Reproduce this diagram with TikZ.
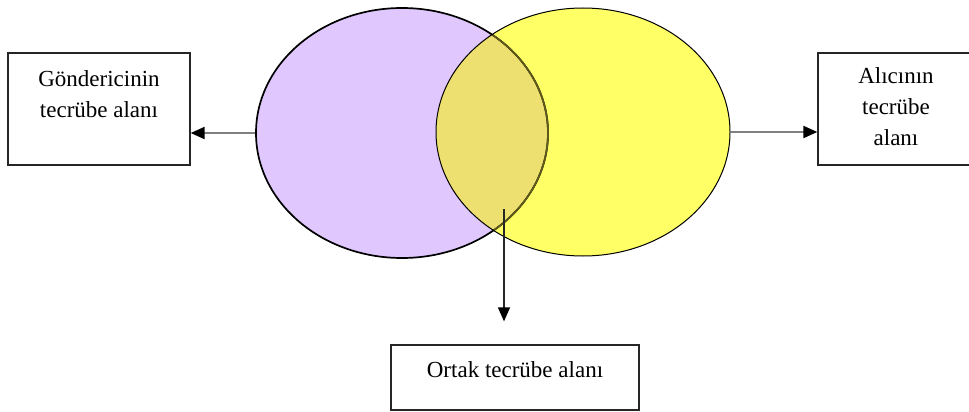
\documentclass[tikz,border=0pt]{standalone}
\usepackage{fontspec}
\setmainfont{Liberation Serif}
\usetikzlibrary{arrows.meta,positioning,shapes.geometric}
\definecolor{lila}{RGB}{224,200,255}
\definecolor{sari}{RGB}{255,255,102}
\definecolor{ortak}{RGB}{238,224,112}
\definecolor{zeytin}{RGB}{95,90,25}

\begin{document}
\begin{tikzpicture}[x=1pt,y=1pt,
    kutu/.style={draw=black!85,line width=1.3pt,inner sep=0pt},
    yazi/.style={font=\fontsize{23}{31}\selectfont,align=center,inner sep=0pt},
    halka/.style={ellipse,inner sep=0pt,minimum width=#1},
    ok/.style={line width=2pt,draw=black!50,-{Triangle[length=14pt,width=12pt,black]}}]
    \useasboundingbox (0,0) rectangle (969,-412);
    \coordinate (sol) at (402,-133);
    \coordinate (sag) at (583,-132);

    % iki alanin dolgusu, kesisim ayri boyaniyor
    \fill[lila] (sol) ellipse [x radius=146, y radius=125];
    \fill[sari] (sag) ellipse [x radius=147, y radius=124];
    \begin{scope}
        \clip (sol) ellipse [x radius=146, y radius=125];
        \fill[ortak] (sag) ellipse [x radius=147, y radius=124];
    \end{scope}

    % cerceveler
    \node[halka=292,minimum height=250,draw,line width=1.7pt] (gonderen) at (sol) {};
    \begin{scope}
        \clip (sag) ellipse [x radius=147, y radius=124];
        \draw[zeytin,line width=1.7pt] (sol) ellipse [x radius=146, y radius=125];
    \end{scope}
    \node[halka=294,minimum height=248,draw,line width=1pt] (alici) at (sag) {};

    % kutular
    \node[kutu,minimum width=182,minimum height=112] (gkutu) at (99,-109) {};
    \node[yazi,below=18pt of gkutu.north] (gyazi) {Göndericinin\\tecrübe alanı};
    \node[kutu,minimum width=156,minimum height=112] (akutu) at (896,-109) {};
    \node[yazi,below=15pt of akutu.north] (ayazi) {Alıcının\\tecrübe\\alanı};
    \node[kutu,minimum width=248,minimum height=65] (okutu) at (515,-377.5) {};
    \node[yazi,below=17pt of okutu.north] (oyazi) {Ortak tecrübe alanı};

    % oklar
    \coordinate (kesisim) at (504,-209);
    \draw[ok] (gonderen.west) -- (gonderen.west -| gkutu.east);
    \draw[ok] (alici.east) -- (alici.east -| akutu.west);
    \draw[ok,draw=black!85,line width=1.3pt,shorten >=23pt] (kesisim) -- (kesisim |- okutu.north);
\end{tikzpicture}
\end{document}
